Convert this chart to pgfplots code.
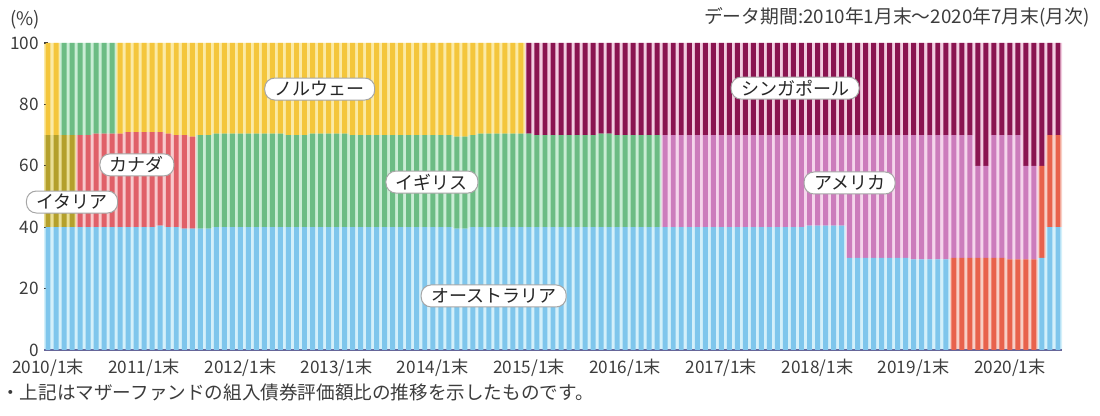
\documentclass[border=0pt]{standalone}
\usepackage{pgfplots}
\usepackage{pgfplotstable}
\pgfplotsset{compat=1.18}
\usepackage{fontspec}
\setmainfont{Noto Sans CJK JP}

\definecolor{cau}{HTML}{7FC6EC}\definecolor{lau}{HTML}{D4F0FA}
\definecolor{cit}{HTML}{B4A02C}\definecolor{lit}{HTML}{EADF96}
\definecolor{cca}{HTML}{E06068}\definecolor{lca}{HTML}{F7CACD}
\definecolor{ccb}{HTML}{E8624C}\definecolor{lcb}{HTML}{F8CFC6}
\definecolor{cuk}{HTML}{6CBC84}\definecolor{luk}{HTML}{CAEDD5}
\definecolor{cus}{HTML}{CC7CBC}\definecolor{lus}{HTML}{F5D5EC}
\definecolor{cno}{HTML}{F4C63C}\definecolor{lno}{HTML}{FBEAA6}
\definecolor{csg}{HTML}{8A1450}\definecolor{lsg}{HTML}{F2CCE0}
\definecolor{txt}{HTML}{3C3C3C}

\pgfplotstableread{
m au it ca cb uk us no sg
0 40 30 0 0 0 0 30 0
1 40 30 0 0 0 0 30 0
2 40 30 0 0 30 0 0 0
3 40 30 0 0 30 0 0 0
4 40 0 30 0 30 0 0 0
5 40 0 30 0 30 0 0 0
6 40 0 30.5 0 29.5 0 0 0
7 40 0 30.5 0 29.5 0 0 0
8 40 0 30.5 0 29.5 0 0 0
9 40 0 30.5 0 0 0 29.5 0
10 40 0 31 0 0 0 29 0
11 40 0 31 0 0 0 29 0
12 40 0 31 0 0 0 29 0
13 40 0 31 0 0 0 29 0
14 40.5 0 30.5 0 0 0 29 0
15 40 0 30.5 0 0 0 29.5 0
16 40 0 30 0 0 0 30 0
17 39.5 0 30.5 0 0 0 30 0
18 39.5 0 30 0 0 0 30.5 0
19 39.5 0 0 0 30.5 0 30 0
20 39.5 0 0 0 30.5 0 30 0
21 40 0 0 0 30.5 0 29.5 0
22 40 0 0 0 30.5 0 29.5 0
23 40 0 0 0 30.5 0 29.5 0
24 40 0 0 0 30.5 0 29.5 0
25 40 0 0 0 30.5 0 29.5 0
26 40 0 0 0 30.5 0 29.5 0
27 40 0 0 0 30.5 0 29.5 0
28 40 0 0 0 30.5 0 29.5 0
29 40 0 0 0 30.5 0 29.5 0
30 40 0 0 0 30 0 30 0
31 40 0 0 0 30 0 30 0
32 40 0 0 0 30 0 30 0
33 40 0 0 0 30.5 0 29.5 0
34 40 0 0 0 30.5 0 29.5 0
35 40 0 0 0 30.5 0 29.5 0
36 40 0 0 0 30.5 0 29.5 0
37 40 0 0 0 30.5 0 29.5 0
38 40 0 0 0 30 0 30 0
39 40 0 0 0 30 0 30 0
40 40 0 0 0 30 0 30 0
41 40 0 0 0 30 0 30 0
42 40 0 0 0 30 0 30 0
43 40 0 0 0 30 0 30 0
44 40 0 0 0 30 0 30 0
45 40 0 0 0 30 0 30 0
46 40 0 0 0 30 0 30 0
47 40 0 0 0 30 0 30 0
48 40 0 0 0 30 0 30 0
49 40 0 0 0 30 0 30 0
50 40 0 0 0 30 0 30 0
51 39.5 0 0 0 30 0 30.5 0
52 39.5 0 0 0 30 0 30.5 0
53 40 0 0 0 30 0 30 0
54 40 0 0 0 30.5 0 29.5 0
55 40 0 0 0 30.5 0 29.5 0
56 40 0 0 0 30.5 0 29.5 0
57 40 0 0 0 30.5 0 29.5 0
58 40 0 0 0 30.5 0 29.5 0
59 40 0 0 0 30.5 0 29.5 0
60 40 0 0 0 30.5 0 0 29.5
61 40 0 0 0 30 0 0 30
62 40 0 0 0 30 0 0 30
63 40 0 0 0 30 0 0 30
64 40 0 0 0 30 0 0 30
65 40 0 0 0 30 0 0 30
66 40 0 0 0 30 0 0 30
67 40 0 0 0 30 0 0 30
68 40 0 0 0 30 0 0 30
69 40 0 0 0 30.5 0 0 29.5
70 40 0 0 0 30.5 0 0 29.5
71 40 0 0 0 30 0 0 30
72 40 0 0 0 30 0 0 30
73 40 0 0 0 30 0 0 30
74 40 0 0 0 30 0 0 30
75 40 0 0 0 30 0 0 30
76 40 0 0 0 30 0 0 30
77 40 0 0 0 0 30 0 30
78 40 0 0 0 0 30 0 30
79 40 0 0 0 0 30 0 30
80 40 0 0 0 0 30 0 30
81 40 0 0 0 0 30 0 30
82 40 0 0 0 0 30 0 30
83 40 0 0 0 0 30 0 30
84 40 0 0 0 0 30 0 30
85 40 0 0 0 0 30 0 30
86 40 0 0 0 0 30 0 30
87 40 0 0 0 0 30 0 30
88 40 0 0 0 0 30 0 30
89 40 0 0 0 0 30 0 30
90 40 0 0 0 0 30 0 30
91 40 0 0 0 0 30 0 30
92 40 0 0 0 0 30 0 30
93 40 0 0 0 0 30 0 30
94 40 0 0 0 0 30 0 30
95 40.5 0 0 0 0 29.5 0 30
96 40.5 0 0 0 0 29.5 0 30
97 40.5 0 0 0 0 29.5 0 30
98 40.5 0 0 0 0 29.5 0 30
99 40.5 0 0 0 0 29.5 0 30
100 30 0 0 0 0 40 0 30
101 30 0 0 0 0 40 0 30
102 30 0 0 0 0 40 0 30
103 30 0 0 0 0 40 0 30
104 30 0 0 0 0 40 0 30
105 30 0 0 0 0 40 0 30
106 30 0 0 0 0 40 0 30
107 30 0 0 0 0 40 0 30
108 29.5 0 0 0 0 40.5 0 30
109 29.5 0 0 0 0 40.5 0 30
110 29.5 0 0 0 0 40.5 0 30
111 29.5 0 0 0 0 40.5 0 30
112 29.5 0 0 0 0 40.5 0 30
113 0 0 0 30 0 40 0 30
114 0 0 0 30 0 40 0 30
115 0 0 0 30 0 40 0 30
116 0 0 0 30 0 30 0 40
117 0 0 0 30 0 30 0 40
118 0 0 0 30 0 40 0 30
119 0 0 0 30 0 40 0 30
120 0 0 0 29.5 0 40.5 0 30
121 0 0 0 29.5 0 40.5 0 30
122 0 0 0 29.5 0 30.5 0 40
123 0 0 0 29.5 0 30.5 0 40
124 30 0 0 30 0 0 0 40
125 40 0 0 30 0 0 0 30
126 40 0 0 30 0 0 0 30
}\data

\pgfplotsset{base/.style={
  scale only axis, width=509pt, height=153.5pt,
  at={(22pt,33pt)}, anchor=south west,
  xmin=-0.5, xmax=126.5, ymin=0, ymax=100,
  ybar stacked, bar shift=0pt,
  every axis plot/.append style={draw=none},
}}

\begin{document}
\begin{tikzpicture}
\useasboundingbox (0,0) rectangle (550pt,208pt);
% light background (gaps)
\begin{axis}[base, hide axis, bar width=1.04]
\addplot[fill=lau] table[x=m,y=au]{\data};
\addplot[fill=lit] table[x=m,y=it]{\data};
\addplot[fill=lca] table[x=m,y=ca]{\data};
\addplot[fill=lcb] table[x=m,y=cb]{\data};
\addplot[fill=luk] table[x=m,y=uk]{\data};
\addplot[fill=lus] table[x=m,y=us]{\data};
\addplot[fill=lno] table[x=m,y=no]{\data};
\addplot[fill=lsg] table[x=m,y=sg]{\data};
\end{axis}
% main stripes
\begin{axis}[base, bar width=0.62,
  axis x line=bottom, axis y line=left,
  x axis line style={draw=gray!80!blue, line width=1pt, -},
  y axis line style={draw=none},
  xtick={0,12,...,120},
  xticklabels={2010/1末,2011/1末,2012/1末,2013/1末,2014/1末,2015/1末,2016/1末,2017/1末,2018/1末,2019/1末,2020/1末},
  x tick style={draw=none},
  ytick={0,20,...,100},
  y tick style={draw=txt, line width=0.6pt},
  tick align=inside, major tick length=2pt,
  ticklabel style={font=\fontsize{8.6}{10}\selectfont, text=txt},
  xticklabel style={yshift=-1pt},
  yticklabel style={xshift=1pt},
  /pgf/number format/assume math mode=true,
  clip=false]
\addplot[fill=cau] table[x=m,y=au]{\data};
\addplot[fill=cit] table[x=m,y=it]{\data};
\addplot[fill=cca] table[x=m,y=ca]{\data};
\addplot[fill=ccb] table[x=m,y=cb]{\data};
\addplot[fill=cuk] table[x=m,y=uk]{\data};
\addplot[fill=cus] table[x=m,y=us]{\data};
\addplot[fill=cno] table[x=m,y=no]{\data};
\addplot[fill=csg] table[x=m,y=sg]{\data};
\coordinate (lno) at (axis cs:33.9,85);
\coordinate (lsg) at (axis cs:93.2,85.3);
\coordinate (lca) at (axis cs:11.1,60.3);
\coordinate (lit) at (axis cs:3.0,48.2);
\coordinate (luk) at (axis cs:47.9,54.7);
\coordinate (lus) at (axis cs:100.0,54.4);
\coordinate (lau) at (axis cs:55.6,17.6);
\end{axis}
\tikzset{lab/.style={draw=gray!70, line width=0.5pt, fill=white, rounded corners=5pt,
  inner xsep=5pt, inner ysep=0.5pt, minimum height=11pt, text=black!85,
  font=\fontsize{9}{10}\selectfont}}
\node[lab] at (lno) {ノルウェー};
\node[lab] at (lsg) {シンガポール};
\node[lab] at (lca) {カナダ};
\node[lab] at (lit) {イタリア};
\node[lab] at (luk) {イギリス};
\node[lab] at (lus) {アメリカ};
\node[lab] at (lau) {オーストラリア};
\node[text=txt, font=\fontsize{9.3}{10}\selectfont] at (12.5pt,198pt) {(\%)};
\node[text=txt, anchor=east, inner sep=0pt, font=\fontsize{9.4}{10}\selectfont] at (545pt,199.5pt) {データ期間:2010年1月末～2020年7月末(月次)};
\node[text=txt, anchor=west, inner sep=0pt, font=\fontsize{9.3}{10}\selectfont] at (0.5pt,12pt) {・上記はマザーファンドの組入債券評価額比の推移を示したものです。};
\end{tikzpicture}
\end{document}
